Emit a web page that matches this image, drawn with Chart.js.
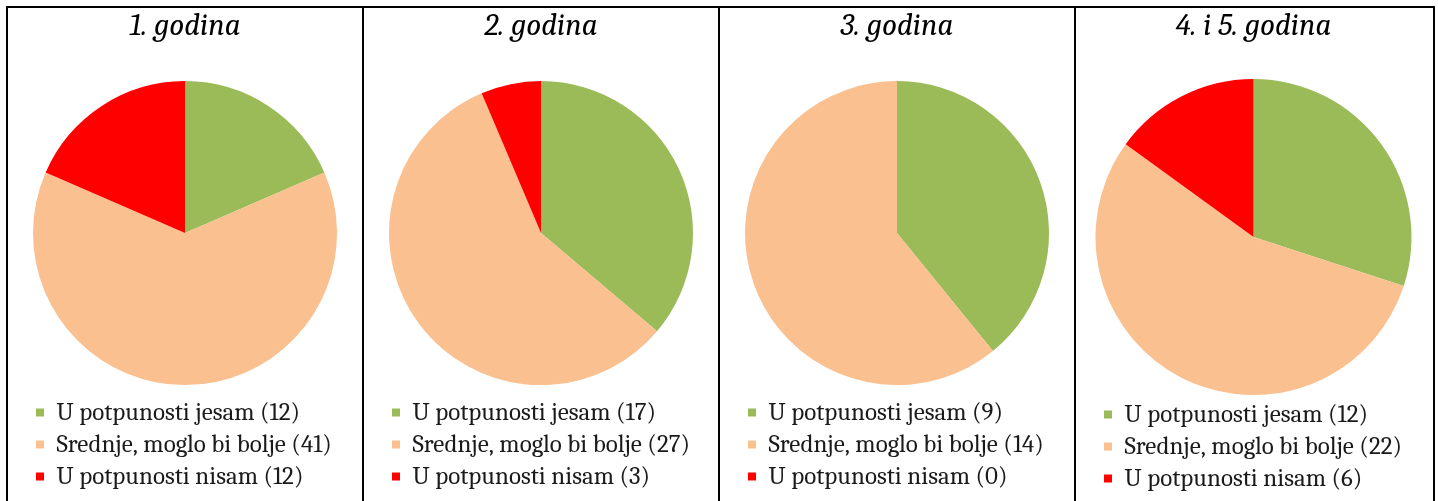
<!DOCTYPE html>
<html>
<head>
<meta charset="utf-8">
<script src="https://cdn.jsdelivr.net/npm/chart.js@4/dist/chart.umd.min.js"></script>
<style>
  body { margin: 0; background: #fff; width: 1438px; height: 501px; overflow: hidden; }
  #wrap { position: absolute; left: 6px; top: 6px; width: 1425px; height: 495px;
          border-top: 2px solid #000; border-left: 2px solid #000; border-right: 2px solid #000; display: flex; }
  .cell { position: relative; height: 493px; border-right: 2px solid #000; }
  .cell:last-child { border-right: none; }
</style>
</head>
<body>
<div id="wrap">
  <div class="cell" style="width:354px"><canvas id="c0"></canvas></div>
  <div class="cell" style="width:354px"><canvas id="c1"></canvas></div>
  <div class="cell" style="width:354px"><canvas id="c2"></canvas></div>
  <div class="cell" style="width:355px"><canvas id="c3"></canvas></div>
</div>
<script>
var titles = ["1. godina", "2. godina", "3. godina", "4. i 5. godina"];
var categories = ["U potpunosti jesam", "Srednje, moglo bi bolje", "U potpunosti nisam"];
var godina1 = [12, 41, 12];
var godina2 = [17, 27, 3];
var godina3 = [9, 14, 0];
var godina45 = [12, 22, 6];
var colors = ['#9BBB59', '#FAC090', '#FF0000'];

var series = [godina1, godina2, godina3, godina45];
// radius, title bottom padding, layout bottom padding per chart
var layouts = [
    { radius: 152, titleBottom: 28, padBottom: 2 },
    { radius: 152, titleBottom: 28, padBottom: 2 },
    { radius: 152, titleBottom: 28, padBottom: 2 },
    { radius: 158, titleBottom: 34, padBottom: 0 }
];

var fontFamily = "Cambria, 'Liberation Serif', serif";

series.forEach(function (vals, i) {
    var canvas = document.getElementById('c' + i);
    new Chart(canvas.getContext('2d'), {
        type: 'pie',
        data: {
            labels: categories.map(function (c, k) { return c + ' (' + vals[k] + ')'; }),
            datasets: [{
                data: vals,
                backgroundColor: colors,
                borderWidth: 0,
                radius: layouts[i].radius
            }]
        },
        options: {
            responsive: true,
            maintainAspectRatio: false,
            animation: false,
            layout: { padding: { left: 21, right: 21, top: 0, bottom: layouts[i].padBottom } },
            plugins: {
                title: {
                    display: true,
                    text: titles[i],
                    color: '#000',
                    font: { family: fontFamily, size: 31, style: 'italic', weight: 'normal' },
                    padding: { top: 0, bottom: layouts[i].titleBottom }
                },
                legend: {
                    position: 'bottom',
                    align: 'start',
                    labels: {
                        boxWidth: 8,
                        boxHeight: 8,
                        padding: 7,
                        color: '#1a1a1a',
                        font: { family: fontFamily, size: 25 }
                    }
                },
                tooltip: { enabled: false }
            }
        }
    });
});
</script>
</body>
</html>
